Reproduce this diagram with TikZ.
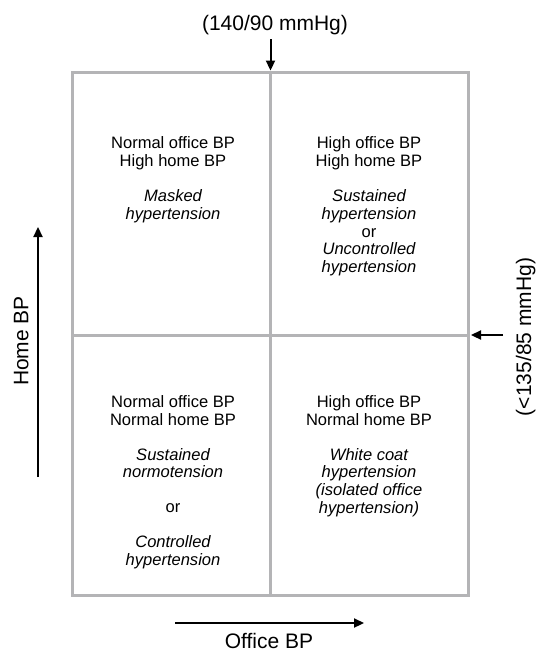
\documentclass[tikz,border=0pt]{standalone}
\usepackage{fontspec}
\setmainfont{Liberation Sans}
\usetikzlibrary{arrows.meta}
\definecolor{framegray}{RGB}{180,180,182}
\newcommand{\gap}{\\[12.9pt]}

\begin{document}
\begin{tikzpicture}[x=0.75pt, y=-0.75pt,
    font=\fontsize{12.4}{13.35}\selectfont,
    axis/.style={line width=1.5pt, -{Triangle[length=7.5pt, width=6.8pt]}},
    frame/.style={framegray, line width=2.25pt},
    label/.style={font=\fontsize{15.75}{18}\selectfont, inner sep=0pt, anchor=base},
    cell/.style={align=center, inner sep=0pt, anchor=north}]
    \useasboundingbox (0,0) rectangle (541,651);

    \coordinate (nw) at (72.5,72);
    \coordinate (se) at (468.5,595);
    \coordinate (n) at (270.5,72);
    \coordinate (s) at (270.5,595);
    \coordinate (w) at (72.5,335);
    \coordinate (e) at (468.5,335);

    \draw[frame] (nw) rectangle (se);
    \draw[frame] (n) -- (s);
    \draw[frame] (w) -- (e);

    \node (hi) [cell] at (173,136.5) {Normal office BP\\High home BP\gap
        \itshape Masked\\\itshape hypertension};
    \node (hh) [cell] at (369,136.5) {High office BP\\High home BP\gap
        \itshape Sustained\\\itshape hypertension\\or\\
        \itshape Uncontrolled\\\itshape hypertension};
    \node (nn) [cell] at (173,395) {Normal office BP\\Normal home BP\gap
        \itshape Sustained\\\itshape normotension\gap or\gap
        \itshape Controlled\\\itshape hypertension};
    \node (hn) [cell] at (369,395) {High office BP\\Normal home BP\gap
        \itshape White coat\\\itshape hypertension\\
        \itshape (isolated office\\\itshape hypertension)};

    \node (office) [label] at (275,30) {(140/90 mmHg)};
    \node (home) [label] at (531,337) [rotate=90] {(<135/85 mmHg)};
    \node (yaxis) [label] at (28.3,341) [rotate=90] {Home BP};
    \node (xaxis) [label] at (269,648) {Office BP};

    \coordinate (top from) at (270.5,39);
    \coordinate (top to) at (270.5,70.5);
    \coordinate (right from) at (503,335);
    \coordinate (right to) at (471,335);
    \coordinate (y from) at (38,477);
    \coordinate (y to) at (38,227);
    \coordinate (x from) at (175,623);
    \coordinate (x to) at (364,623);

    \draw[axis] (top from) -- (top to);
    \draw[axis] (right from) -- (right to);
    \draw[axis] (y from) -- (y to);
    \draw[axis] (x from) -- (x to);
\end{tikzpicture}
\end{document}
